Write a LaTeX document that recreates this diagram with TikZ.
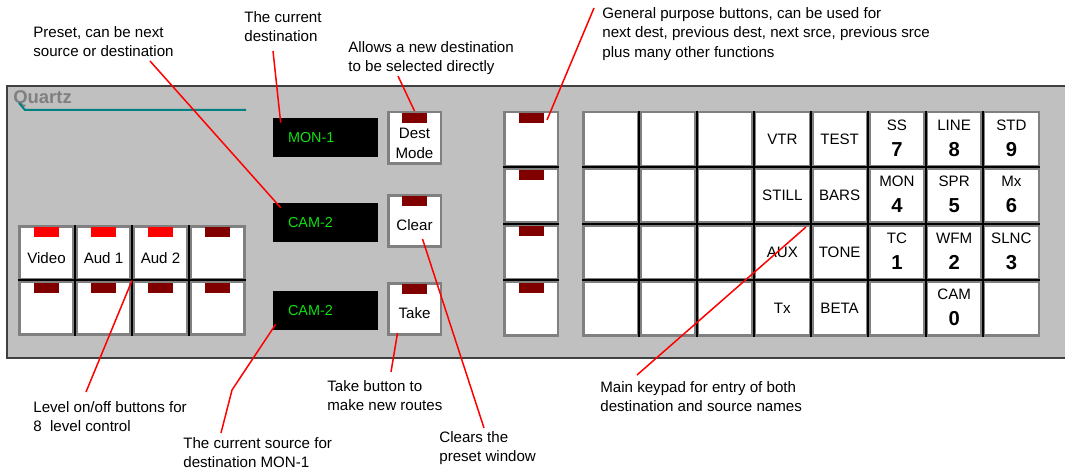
\documentclass[tikz,border=0pt]{standalone}
\usepackage{fontspec}
\setmainfont{Liberation Sans}
\usetikzlibrary{calc}

\definecolor{panelgrey}{HTML}{C0C0C0}
\definecolor{paneledge}{HTML}{404040}
\definecolor{btngrey}{HTML}{808080}
\definecolor{ledoff}{HTML}{800000}
\definecolor{ledon}{HTML}{FF0000}
\definecolor{lcdgreen}{HTML}{10E010}
\definecolor{logoteal}{HTML}{008080}

\tikzset{
  note/.style={anchor=north west, inner sep=0pt, align=left, font=\fontsize{8.6}{11.2}\selectfont},
  callout/.style={red, line width=0.03cm},
  btn/.style={draw=btngrey, fill=white, line width=0.05cm, inner sep=0pt},
  keybtn/.style={btn, minimum width=1.095cm, minimum height=1.08cm},
  lvbtn/.style={btn, minimum width=1.09cm, minimum height=1.06cm},
  gpbtn/.style={btn, minimum width=1.07cm, minimum height=1.08cm},
  modebtn/.style={btn, minimum width=1.05cm, minimum height=1.03cm},
  sep/.style={black, line width=0.04cm},
  btntxt/.style={inner sep=0pt, align=center, font=\fontsize{8.6}{11.4}\selectfont},
  keydig/.style={inner sep=0pt, font=\fontsize{11.5}{12}\selectfont\bfseries},
  lcd/.style={fill=black, text=lcdgreen, minimum height=0.78cm, text width=1.5cm,
    inner xsep=0.3cm, inner ysep=0pt, align=left, font=\fontsize{8.2}{10}\selectfont},
  logo/.style={anchor=west, inner sep=0pt, text=btngrey, font=\fontsize{10.5}{12}\selectfont\bfseries}
}

\begin{document}
\begin{tikzpicture}[x=0.02cm, y=-0.02cm]
    \useasboundingbox (0,0) rectangle (1065,472);

    % Panel
    \fill[panelgrey] (7,86) rectangle (1065,358);
    \draw[paneledge, line width=0.04cm] (1065,86) -- (7,86) -- (7,358) -- (1065,358);

    % Logo
    \node[logo] (logo) at (13,99) {Quartz};
    \draw[logoteal, line width=0.04cm] (19,103) -- (25,110) -- (246,110);

    % Displays
    \node[lcd] (dest) at (325.5,137.5) {MON-1};
    \node[lcd] (preset) at (325.5,222.5) {CAM-2};
    \node[lcd] (source) at (325.5,310.5) {CAM-2};

    % Dest Mode, Clear, Take
    \node[modebtn] (destmode) at (414.5,138) {};
    \node[modebtn] (clear) at (414.5,221) {};
    \node[modebtn] (take) at (414.5,309) {};
    \foreach \b in {destmode, clear, take}
      \fill[ledoff] ($(\b.north)+(-12.5,2)$) rectangle ++(25,10);
    \node[btntxt] at ($(destmode)+(0,5)$) {Dest\\Mode};
    \node[btntxt] at ($(clear)+(0,4)$) {Clear};
    \node[btntxt] at ($(take)+(0,4)$) {Take};

    % Level buttons (4 x 2)
    \foreach \r in {1,2}
      \foreach \c in {1,...,4}
        \node[lvbtn] (lv-\r-\c) at ({18+57*(\c-0.5)}, {225+55.5*(\r-0.5)}) {};
    \foreach \c in {1,...,3}
      \draw[sep] (lv-1-\c.north east) -- (lv-2-\c.south east);
    \draw[sep] (lv-1-1.south west) -- (lv-1-4.south east);
    \foreach \c in {1,...,3}
      \fill[ledon] ($(lv-1-\c.north)+(-12.5,2)$) rectangle ++(25,10);
    \fill[ledoff] ($(lv-1-4.north)+(-12.5,2)$) rectangle ++(25,10);
    \foreach \c in {1,...,4}
      \fill[ledoff] ($(lv-2-\c.north)+(-12.5,2)$) rectangle ++(25,10);
    \foreach \c/\t in {1/Video, 2/Aud 1, 3/Aud 2}
      \node[btntxt] at ($(lv-1-\c)+(0,5)$) {\t};

    % General purpose buttons
    \foreach \r in {1,...,4} {
      \node[gpbtn] (gp-\r) at (531, {111+56.5*(\r-0.5)}) {};
      \fill[ledoff] ($(gp-\r.north)+(-12.5,2)$) rectangle ++(25,10);
    }
    \foreach \r in {1,...,3}
      \draw[sep] (gp-\r.south west) -- (gp-\r.south east);

    % Main keypad (8 x 4)
    \foreach \r in {1,...,4}
      \foreach \c in {1,...,8}
        \node[keybtn] (k-\r-\c) at ({582+57.25*(\c-0.5)}, {111+56.5*(\r-0.5)}) {};
    \foreach \c in {1,...,7}
      \draw[sep] (k-1-\c.north east) -- (k-4-\c.south east);
    \foreach \r in {1,...,3}
      \draw[sep] (k-\r-1.south west) -- (k-\r-8.south east);
    \foreach \r/\c/\t in {1/4/VTR, 1/5/TEST, 2/4/STILL, 2/5/BARS,
                         3/4/AUX, 3/5/TONE, 4/4/Tx, 4/5/BETA}
      \node[btntxt] at (k-\r-\c) {\t};
    \foreach \r/\c/\t/\d in {1/6/SS/7, 1/7/LINE/8, 1/8/STD/9,
                             2/6/MON/4, 2/7/SPR/5, 2/8/Mx/6,
                             3/6/TC/1, 3/7/WFM/2, 3/8/SLNC/3, 4/7/CAM/0} {
      \node[btntxt] at ($(k-\r-\c)+(0,-14)$) {\t};
      \node[keydig] at ($(k-\r-\c)+(0,10)$) {\d};
    }

    % Notes
    \node[note] (n-preset) at (33,26) {Preset, can be next\\source or destination};
    \node[note] (n-dest) at (244,11) {The current\\destination};
    \node[note] (n-mode) at (348,41) {Allows a new destination\\to be selected directly};
    \node[note] (n-gp) at (602,7) {General purpose buttons, can be used for\\next dest, previous dest, next srce, previous srce\\plus many other functions};
    \node[note] (n-level) at (33,401) {Level on/off buttons for\\8\ \ level control};
    \node[note] (n-src) at (183,437) {The current source for\\destination MON-1};
    \node[note] (n-take) at (327,380) {Take button to\\make new routes};
    \node[note] (n-clear) at (439,431) {Clears the\\preset window};
    \node[note] (n-keypad) at (600,381) {Main keypad for entry of both\\destination and source names};

    % Callouts
    \coordinate (c-preset) at (150,61);
    \coordinate (c-dest) at (273,51);
    \coordinate (c-mode) at (398,76);
    \coordinate (c-gp) at (594,8);
    \coordinate (c-level) at (86,392);
    \coordinate (c-src) at (221,433);
    \coordinate (c-src-bend) at (232,390);
    \coordinate (c-take) at (391,372);
    \coordinate (c-clear) at (484,428);
    \coordinate (c-keypad) at (637,375);
    \draw[callout] (c-preset) -- ($(preset.north west)+(8,5)$);
    \draw[callout] (c-dest) -- ($(dest.north west)+(8,5)$);
    \draw[callout] (c-mode) -- (destmode.north);
    \draw[callout] (c-gp) -- ($(gp-1.north)+(16,9)$);
    \draw[callout] (c-level) -- (lv-1-2.south east);
    \draw[callout] (c-src) -- (c-src-bend) -- ($(source.south west)+(3,-6)$);
    \draw[callout] (c-take) -- ($(take.south)+(-17,-3)$);
    \draw[callout] (c-clear) -- ($(clear.center)+(8,18)$);
    \draw[callout] (c-keypad) -- ($(k-3-4.north east)+(-5,3)$);

\end{tikzpicture}
\end{document}
